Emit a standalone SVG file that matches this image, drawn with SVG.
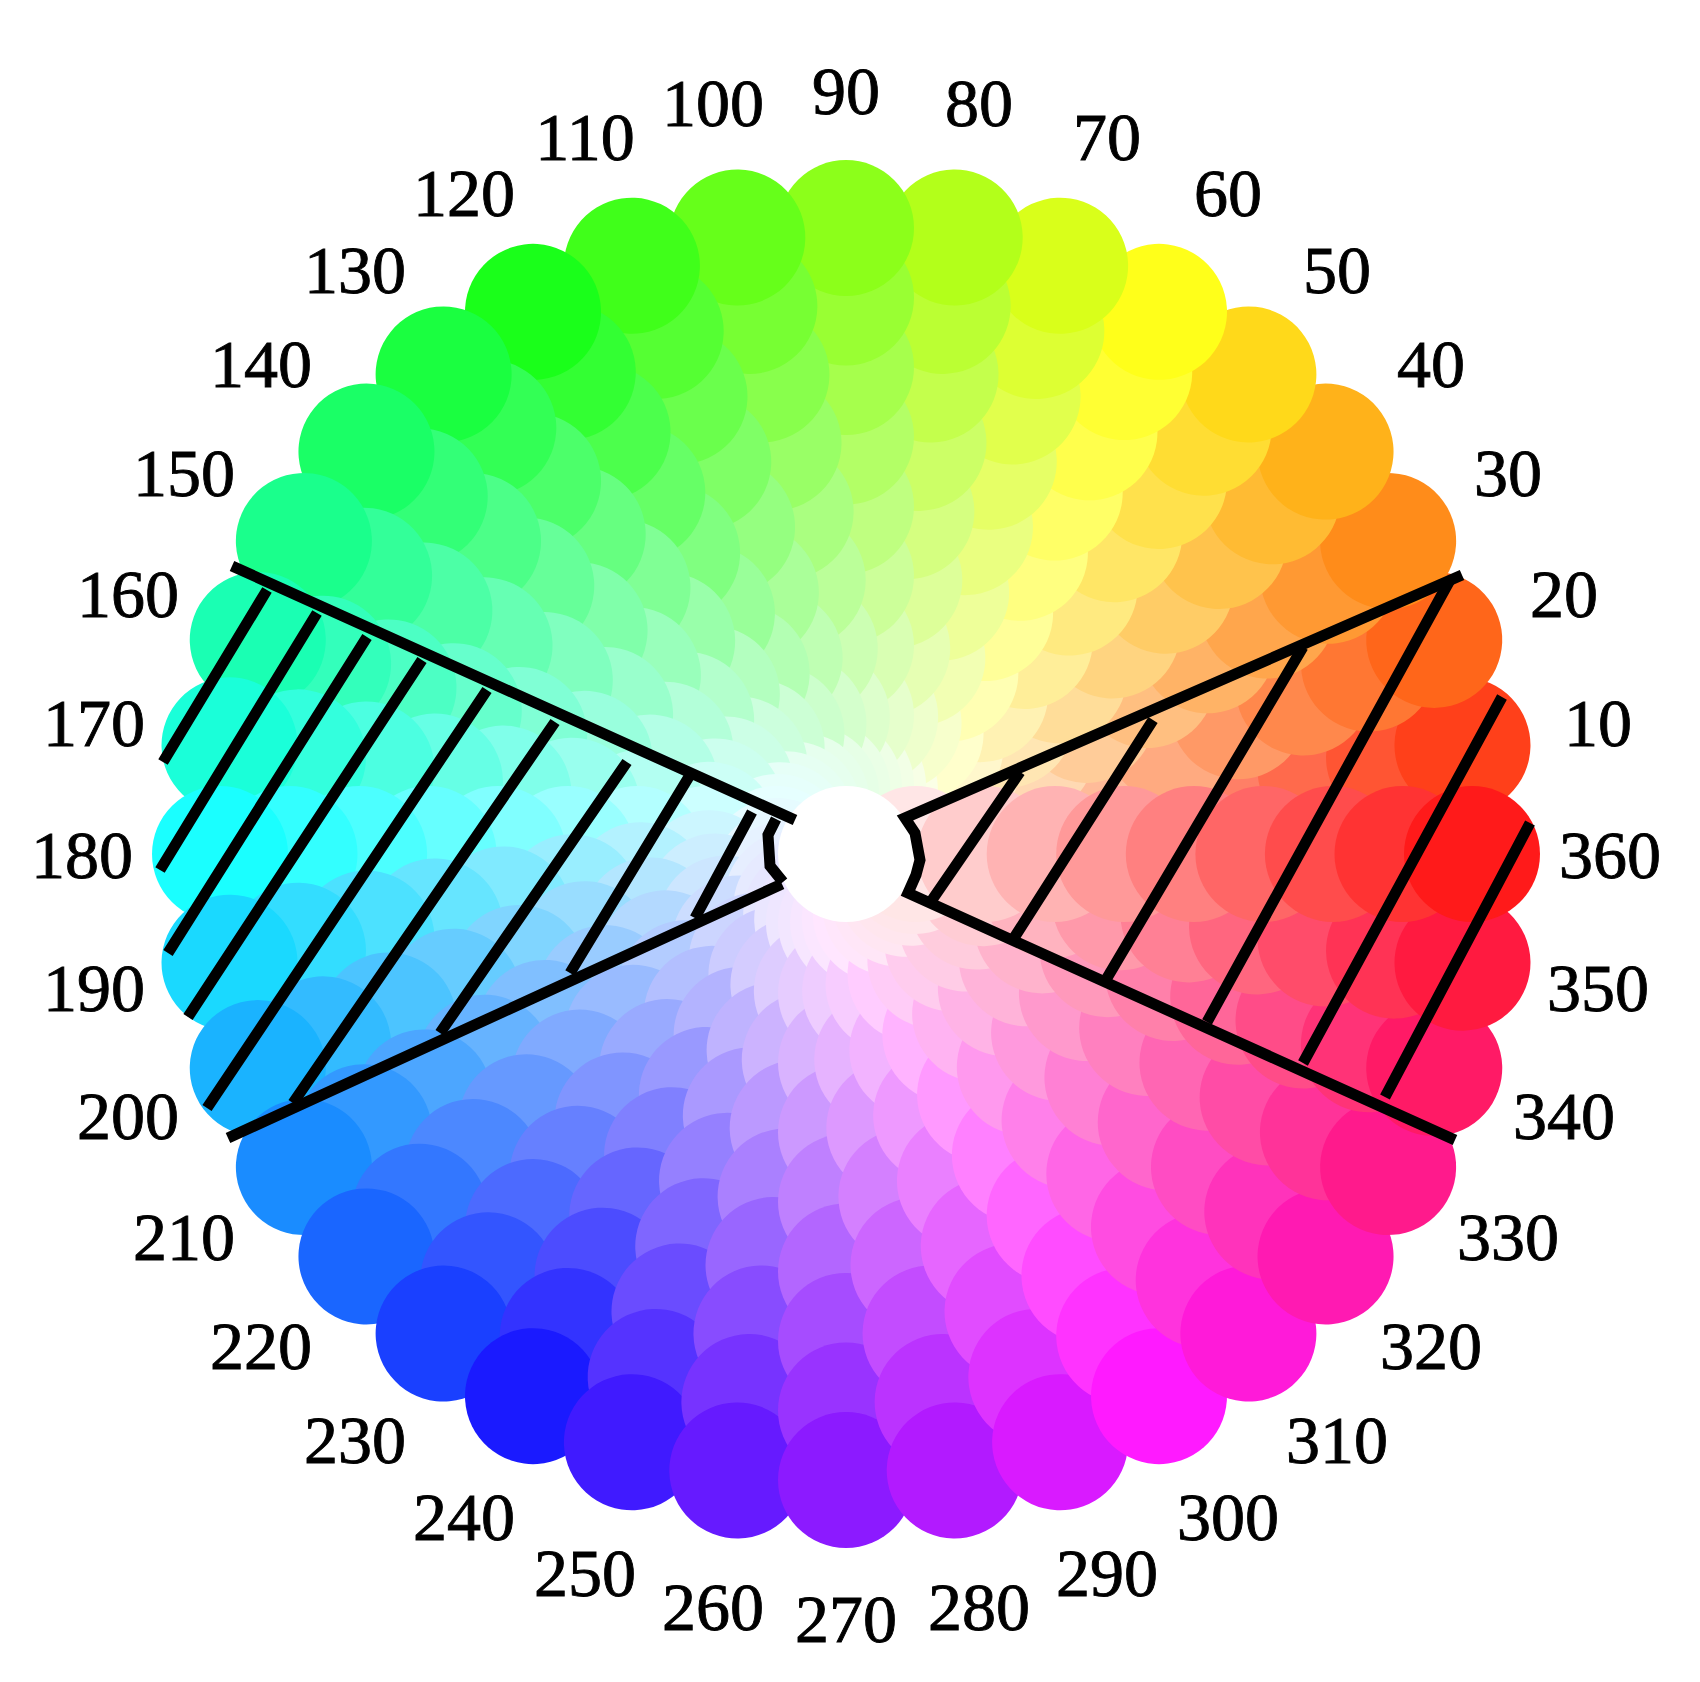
<svg xmlns="http://www.w3.org/2000/svg" xmlns:xlink="http://www.w3.org/1999/xlink" width="1700" height="1682" viewBox="0 0 1700 1682">
<style>
.lbl{font-family:"Liberation Serif","Times New Roman",serif;font-size:68px;fill:#000;stroke:#000;stroke-width:0.9px;text-anchor:middle}
.hatch{fill:none;stroke:#000;stroke-width:11;stroke-linejoin:miter;stroke-linecap:butt}
</style>
<defs>
<circle id="c" cx="846" cy="854" r="68"/>
</defs>
<rect width="1700" height="1682" fill="#fff"/>
<g id="wheel">
<g id="hue-10" transform="rotate(-10 846 854)"><use href="#c" x="69.6" fill="hsl(10,100%,95%)"/><use href="#c" x="139.1" fill="hsl(10,100%,90%)"/><use href="#c" x="208.7" fill="hsl(10,100%,85%)"/><use href="#c" x="278.2" fill="hsl(10,100%,80%)"/><use href="#c" x="347.8" fill="hsl(10,100%,75%)"/><use href="#c" x="417.4" fill="hsl(10,100%,70%)"/><use href="#c" x="486.9" fill="hsl(10,100%,65%)"/><use href="#c" x="556.5" fill="hsl(10,100%,60%)"/><use href="#c" x="626" fill="hsl(10,100%,55%)"/></g>
<g id="hue-20" transform="rotate(-20 846 854)"><use href="#c" x="69.6" fill="hsl(20,100%,95%)"/><use href="#c" x="139.1" fill="hsl(20,100%,90%)"/><use href="#c" x="208.7" fill="hsl(20,100%,85%)"/><use href="#c" x="278.2" fill="hsl(20,100%,80%)"/><use href="#c" x="347.8" fill="hsl(20,100%,75%)"/><use href="#c" x="417.4" fill="hsl(20,100%,70%)"/><use href="#c" x="486.9" fill="hsl(20,100%,65%)"/><use href="#c" x="556.5" fill="hsl(20,100%,60%)"/><use href="#c" x="626" fill="hsl(20,100%,55%)"/></g>
<g id="hue-30" transform="rotate(-30 846 854)"><use href="#c" x="69.6" fill="hsl(30,100%,95%)"/><use href="#c" x="139.1" fill="hsl(30,100%,90%)"/><use href="#c" x="208.7" fill="hsl(30,100%,85%)"/><use href="#c" x="278.2" fill="hsl(30,100%,80%)"/><use href="#c" x="347.8" fill="hsl(30,100%,75%)"/><use href="#c" x="417.4" fill="hsl(30,100%,70%)"/><use href="#c" x="486.9" fill="hsl(30,100%,65%)"/><use href="#c" x="556.5" fill="hsl(30,100%,60%)"/><use href="#c" x="626" fill="hsl(30,100%,55%)"/></g>
<g id="hue-40" transform="rotate(-40 846 854)"><use href="#c" x="69.6" fill="hsl(40,100%,95%)"/><use href="#c" x="139.1" fill="hsl(40,100%,90%)"/><use href="#c" x="208.7" fill="hsl(40,100%,85%)"/><use href="#c" x="278.2" fill="hsl(40,100%,80%)"/><use href="#c" x="347.8" fill="hsl(40,100%,75%)"/><use href="#c" x="417.4" fill="hsl(40,100%,70%)"/><use href="#c" x="486.9" fill="hsl(40,100%,65%)"/><use href="#c" x="556.5" fill="hsl(40,100%,60%)"/><use href="#c" x="626" fill="hsl(40,100%,55%)"/></g>
<g id="hue-50" transform="rotate(-50 846 854)"><use href="#c" x="69.6" fill="hsl(50,100%,95%)"/><use href="#c" x="139.1" fill="hsl(50,100%,90%)"/><use href="#c" x="208.7" fill="hsl(50,100%,85%)"/><use href="#c" x="278.2" fill="hsl(50,100%,80%)"/><use href="#c" x="347.8" fill="hsl(50,100%,75%)"/><use href="#c" x="417.4" fill="hsl(50,100%,70%)"/><use href="#c" x="486.9" fill="hsl(50,100%,65%)"/><use href="#c" x="556.5" fill="hsl(50,100%,60%)"/><use href="#c" x="626" fill="hsl(50,100%,55%)"/></g>
<g id="hue-60" transform="rotate(-60 846 854)"><use href="#c" x="69.6" fill="hsl(60,100%,95%)"/><use href="#c" x="139.1" fill="hsl(60,100%,90%)"/><use href="#c" x="208.7" fill="hsl(60,100%,85%)"/><use href="#c" x="278.2" fill="hsl(60,100%,80%)"/><use href="#c" x="347.8" fill="hsl(60,100%,75%)"/><use href="#c" x="417.4" fill="hsl(60,100%,70%)"/><use href="#c" x="486.9" fill="hsl(60,100%,65%)"/><use href="#c" x="556.5" fill="hsl(60,100%,60%)"/><use href="#c" x="626" fill="hsl(60,100%,55%)"/></g>
<g id="hue-70" transform="rotate(-70 846 854)"><use href="#c" x="69.6" fill="hsl(70,100%,95%)"/><use href="#c" x="139.1" fill="hsl(70,100%,90%)"/><use href="#c" x="208.7" fill="hsl(70,100%,85%)"/><use href="#c" x="278.2" fill="hsl(70,100%,80%)"/><use href="#c" x="347.8" fill="hsl(70,100%,75%)"/><use href="#c" x="417.4" fill="hsl(70,100%,70%)"/><use href="#c" x="486.9" fill="hsl(70,100%,65%)"/><use href="#c" x="556.5" fill="hsl(70,100%,60%)"/><use href="#c" x="626" fill="hsl(70,100%,55%)"/></g>
<g id="hue-80" transform="rotate(-80 846 854)"><use href="#c" x="69.6" fill="hsl(80,100%,95%)"/><use href="#c" x="139.1" fill="hsl(80,100%,90%)"/><use href="#c" x="208.7" fill="hsl(80,100%,85%)"/><use href="#c" x="278.2" fill="hsl(80,100%,80%)"/><use href="#c" x="347.8" fill="hsl(80,100%,75%)"/><use href="#c" x="417.4" fill="hsl(80,100%,70%)"/><use href="#c" x="486.9" fill="hsl(80,100%,65%)"/><use href="#c" x="556.5" fill="hsl(80,100%,60%)"/><use href="#c" x="626" fill="hsl(80,100%,55%)"/></g>
<g id="hue-90" transform="rotate(-90 846 854)"><use href="#c" x="69.6" fill="hsl(90,100%,95%)"/><use href="#c" x="139.1" fill="hsl(90,100%,90%)"/><use href="#c" x="208.7" fill="hsl(90,100%,85%)"/><use href="#c" x="278.2" fill="hsl(90,100%,80%)"/><use href="#c" x="347.8" fill="hsl(90,100%,75%)"/><use href="#c" x="417.4" fill="hsl(90,100%,70%)"/><use href="#c" x="486.9" fill="hsl(90,100%,65%)"/><use href="#c" x="556.5" fill="hsl(90,100%,60%)"/><use href="#c" x="626" fill="hsl(90,100%,55%)"/></g>
<g id="hue-100" transform="rotate(-100 846 854)"><use href="#c" x="69.6" fill="hsl(100,100%,95%)"/><use href="#c" x="139.1" fill="hsl(100,100%,90%)"/><use href="#c" x="208.7" fill="hsl(100,100%,85%)"/><use href="#c" x="278.2" fill="hsl(100,100%,80%)"/><use href="#c" x="347.8" fill="hsl(100,100%,75%)"/><use href="#c" x="417.4" fill="hsl(100,100%,70%)"/><use href="#c" x="486.9" fill="hsl(100,100%,65%)"/><use href="#c" x="556.5" fill="hsl(100,100%,60%)"/><use href="#c" x="626" fill="hsl(100,100%,55%)"/></g>
<g id="hue-110" transform="rotate(-110 846 854)"><use href="#c" x="69.6" fill="hsl(110,100%,95%)"/><use href="#c" x="139.1" fill="hsl(110,100%,90%)"/><use href="#c" x="208.7" fill="hsl(110,100%,85%)"/><use href="#c" x="278.2" fill="hsl(110,100%,80%)"/><use href="#c" x="347.8" fill="hsl(110,100%,75%)"/><use href="#c" x="417.4" fill="hsl(110,100%,70%)"/><use href="#c" x="486.9" fill="hsl(110,100%,65%)"/><use href="#c" x="556.5" fill="hsl(110,100%,60%)"/><use href="#c" x="626" fill="hsl(110,100%,55%)"/></g>
<g id="hue-120" transform="rotate(-120 846 854)"><use href="#c" x="69.6" fill="hsl(120,100%,95%)"/><use href="#c" x="139.1" fill="hsl(120,100%,90%)"/><use href="#c" x="208.7" fill="hsl(120,100%,85%)"/><use href="#c" x="278.2" fill="hsl(120,100%,80%)"/><use href="#c" x="347.8" fill="hsl(120,100%,75%)"/><use href="#c" x="417.4" fill="hsl(120,100%,70%)"/><use href="#c" x="486.9" fill="hsl(120,100%,65%)"/><use href="#c" x="556.5" fill="hsl(120,100%,60%)"/><use href="#c" x="626" fill="hsl(120,100%,55%)"/></g>
<g id="hue-130" transform="rotate(-130 846 854)"><use href="#c" x="69.6" fill="hsl(130,100%,95%)"/><use href="#c" x="139.1" fill="hsl(130,100%,90%)"/><use href="#c" x="208.7" fill="hsl(130,100%,85%)"/><use href="#c" x="278.2" fill="hsl(130,100%,80%)"/><use href="#c" x="347.8" fill="hsl(130,100%,75%)"/><use href="#c" x="417.4" fill="hsl(130,100%,70%)"/><use href="#c" x="486.9" fill="hsl(130,100%,65%)"/><use href="#c" x="556.5" fill="hsl(130,100%,60%)"/><use href="#c" x="626" fill="hsl(130,100%,55%)"/></g>
<g id="hue-140" transform="rotate(-140 846 854)"><use href="#c" x="69.6" fill="hsl(140,100%,95%)"/><use href="#c" x="139.1" fill="hsl(140,100%,90%)"/><use href="#c" x="208.7" fill="hsl(140,100%,85%)"/><use href="#c" x="278.2" fill="hsl(140,100%,80%)"/><use href="#c" x="347.8" fill="hsl(140,100%,75%)"/><use href="#c" x="417.4" fill="hsl(140,100%,70%)"/><use href="#c" x="486.9" fill="hsl(140,100%,65%)"/><use href="#c" x="556.5" fill="hsl(140,100%,60%)"/><use href="#c" x="626" fill="hsl(140,100%,55%)"/></g>
<g id="hue-150" transform="rotate(-150 846 854)"><use href="#c" x="69.6" fill="hsl(150,100%,95%)"/><use href="#c" x="139.1" fill="hsl(150,100%,90%)"/><use href="#c" x="208.7" fill="hsl(150,100%,85%)"/><use href="#c" x="278.2" fill="hsl(150,100%,80%)"/><use href="#c" x="347.8" fill="hsl(150,100%,75%)"/><use href="#c" x="417.4" fill="hsl(150,100%,70%)"/><use href="#c" x="486.9" fill="hsl(150,100%,65%)"/><use href="#c" x="556.5" fill="hsl(150,100%,60%)"/><use href="#c" x="626" fill="hsl(150,100%,55%)"/></g>
<g id="hue-160" transform="rotate(-160 846 854)"><use href="#c" x="69.6" fill="hsl(160,100%,95%)"/><use href="#c" x="139.1" fill="hsl(160,100%,90%)"/><use href="#c" x="208.7" fill="hsl(160,100%,85%)"/><use href="#c" x="278.2" fill="hsl(160,100%,80%)"/><use href="#c" x="347.8" fill="hsl(160,100%,75%)"/><use href="#c" x="417.4" fill="hsl(160,100%,70%)"/><use href="#c" x="486.9" fill="hsl(160,100%,65%)"/><use href="#c" x="556.5" fill="hsl(160,100%,60%)"/><use href="#c" x="626" fill="hsl(160,100%,55%)"/></g>
<g id="hue-170" transform="rotate(-170 846 854)"><use href="#c" x="69.6" fill="hsl(170,100%,95%)"/><use href="#c" x="139.1" fill="hsl(170,100%,90%)"/><use href="#c" x="208.7" fill="hsl(170,100%,85%)"/><use href="#c" x="278.2" fill="hsl(170,100%,80%)"/><use href="#c" x="347.8" fill="hsl(170,100%,75%)"/><use href="#c" x="417.4" fill="hsl(170,100%,70%)"/><use href="#c" x="486.9" fill="hsl(170,100%,65%)"/><use href="#c" x="556.5" fill="hsl(170,100%,60%)"/><use href="#c" x="626" fill="hsl(170,100%,55%)"/></g>
<g id="hue-180" transform="rotate(-180 846 854)"><use href="#c" x="69.6" fill="hsl(180,100%,95%)"/><use href="#c" x="139.1" fill="hsl(180,100%,90%)"/><use href="#c" x="208.7" fill="hsl(180,100%,85%)"/><use href="#c" x="278.2" fill="hsl(180,100%,80%)"/><use href="#c" x="347.8" fill="hsl(180,100%,75%)"/><use href="#c" x="417.4" fill="hsl(180,100%,70%)"/><use href="#c" x="486.9" fill="hsl(180,100%,65%)"/><use href="#c" x="556.5" fill="hsl(180,100%,60%)"/><use href="#c" x="626" fill="hsl(180,100%,55%)"/></g>
<g id="hue-190" transform="rotate(-190 846 854)"><use href="#c" x="69.6" fill="hsl(190,100%,95%)"/><use href="#c" x="139.1" fill="hsl(190,100%,90%)"/><use href="#c" x="208.7" fill="hsl(190,100%,85%)"/><use href="#c" x="278.2" fill="hsl(190,100%,80%)"/><use href="#c" x="347.8" fill="hsl(190,100%,75%)"/><use href="#c" x="417.4" fill="hsl(190,100%,70%)"/><use href="#c" x="486.9" fill="hsl(190,100%,65%)"/><use href="#c" x="556.5" fill="hsl(190,100%,60%)"/><use href="#c" x="626" fill="hsl(190,100%,55%)"/></g>
<g id="hue-200" transform="rotate(-200 846 854)"><use href="#c" x="69.6" fill="hsl(200,100%,95%)"/><use href="#c" x="139.1" fill="hsl(200,100%,90%)"/><use href="#c" x="208.7" fill="hsl(200,100%,85%)"/><use href="#c" x="278.2" fill="hsl(200,100%,80%)"/><use href="#c" x="347.8" fill="hsl(200,100%,75%)"/><use href="#c" x="417.4" fill="hsl(200,100%,70%)"/><use href="#c" x="486.9" fill="hsl(200,100%,65%)"/><use href="#c" x="556.5" fill="hsl(200,100%,60%)"/><use href="#c" x="626" fill="hsl(200,100%,55%)"/></g>
<g id="hue-210" transform="rotate(-210 846 854)"><use href="#c" x="69.6" fill="hsl(210,100%,95%)"/><use href="#c" x="139.1" fill="hsl(210,100%,90%)"/><use href="#c" x="208.7" fill="hsl(210,100%,85%)"/><use href="#c" x="278.2" fill="hsl(210,100%,80%)"/><use href="#c" x="347.8" fill="hsl(210,100%,75%)"/><use href="#c" x="417.4" fill="hsl(210,100%,70%)"/><use href="#c" x="486.9" fill="hsl(210,100%,65%)"/><use href="#c" x="556.5" fill="hsl(210,100%,60%)"/><use href="#c" x="626" fill="hsl(210,100%,55%)"/></g>
<g id="hue-220" transform="rotate(-220 846 854)"><use href="#c" x="69.6" fill="hsl(220,100%,95%)"/><use href="#c" x="139.1" fill="hsl(220,100%,90%)"/><use href="#c" x="208.7" fill="hsl(220,100%,85%)"/><use href="#c" x="278.2" fill="hsl(220,100%,80%)"/><use href="#c" x="347.8" fill="hsl(220,100%,75%)"/><use href="#c" x="417.4" fill="hsl(220,100%,70%)"/><use href="#c" x="486.9" fill="hsl(220,100%,65%)"/><use href="#c" x="556.5" fill="hsl(220,100%,60%)"/><use href="#c" x="626" fill="hsl(220,100%,55%)"/></g>
<g id="hue-230" transform="rotate(-230 846 854)"><use href="#c" x="69.6" fill="hsl(230,100%,95%)"/><use href="#c" x="139.1" fill="hsl(230,100%,90%)"/><use href="#c" x="208.7" fill="hsl(230,100%,85%)"/><use href="#c" x="278.2" fill="hsl(230,100%,80%)"/><use href="#c" x="347.8" fill="hsl(230,100%,75%)"/><use href="#c" x="417.4" fill="hsl(230,100%,70%)"/><use href="#c" x="486.9" fill="hsl(230,100%,65%)"/><use href="#c" x="556.5" fill="hsl(230,100%,60%)"/><use href="#c" x="626" fill="hsl(230,100%,55%)"/></g>
<g id="hue-240" transform="rotate(-240 846 854)"><use href="#c" x="69.6" fill="hsl(240,100%,95%)"/><use href="#c" x="139.1" fill="hsl(240,100%,90%)"/><use href="#c" x="208.7" fill="hsl(240,100%,85%)"/><use href="#c" x="278.2" fill="hsl(240,100%,80%)"/><use href="#c" x="347.8" fill="hsl(240,100%,75%)"/><use href="#c" x="417.4" fill="hsl(240,100%,70%)"/><use href="#c" x="486.9" fill="hsl(240,100%,65%)"/><use href="#c" x="556.5" fill="hsl(240,100%,60%)"/><use href="#c" x="626" fill="hsl(240,100%,55%)"/></g>
<g id="hue-250" transform="rotate(-250 846 854)"><use href="#c" x="69.6" fill="hsl(250,100%,95%)"/><use href="#c" x="139.1" fill="hsl(250,100%,90%)"/><use href="#c" x="208.7" fill="hsl(250,100%,85%)"/><use href="#c" x="278.2" fill="hsl(250,100%,80%)"/><use href="#c" x="347.8" fill="hsl(250,100%,75%)"/><use href="#c" x="417.4" fill="hsl(250,100%,70%)"/><use href="#c" x="486.9" fill="hsl(250,100%,65%)"/><use href="#c" x="556.5" fill="hsl(250,100%,60%)"/><use href="#c" x="626" fill="hsl(250,100%,55%)"/></g>
<g id="hue-260" transform="rotate(-260 846 854)"><use href="#c" x="69.6" fill="hsl(260,100%,95%)"/><use href="#c" x="139.1" fill="hsl(260,100%,90%)"/><use href="#c" x="208.7" fill="hsl(260,100%,85%)"/><use href="#c" x="278.2" fill="hsl(260,100%,80%)"/><use href="#c" x="347.8" fill="hsl(260,100%,75%)"/><use href="#c" x="417.4" fill="hsl(260,100%,70%)"/><use href="#c" x="486.9" fill="hsl(260,100%,65%)"/><use href="#c" x="556.5" fill="hsl(260,100%,60%)"/><use href="#c" x="626" fill="hsl(260,100%,55%)"/></g>
<g id="hue-270" transform="rotate(-270 846 854)"><use href="#c" x="69.6" fill="hsl(270,100%,95%)"/><use href="#c" x="139.1" fill="hsl(270,100%,90%)"/><use href="#c" x="208.7" fill="hsl(270,100%,85%)"/><use href="#c" x="278.2" fill="hsl(270,100%,80%)"/><use href="#c" x="347.8" fill="hsl(270,100%,75%)"/><use href="#c" x="417.4" fill="hsl(270,100%,70%)"/><use href="#c" x="486.9" fill="hsl(270,100%,65%)"/><use href="#c" x="556.5" fill="hsl(270,100%,60%)"/><use href="#c" x="626" fill="hsl(270,100%,55%)"/></g>
<g id="hue-280" transform="rotate(-280 846 854)"><use href="#c" x="69.6" fill="hsl(280,100%,95%)"/><use href="#c" x="139.1" fill="hsl(280,100%,90%)"/><use href="#c" x="208.7" fill="hsl(280,100%,85%)"/><use href="#c" x="278.2" fill="hsl(280,100%,80%)"/><use href="#c" x="347.8" fill="hsl(280,100%,75%)"/><use href="#c" x="417.4" fill="hsl(280,100%,70%)"/><use href="#c" x="486.9" fill="hsl(280,100%,65%)"/><use href="#c" x="556.5" fill="hsl(280,100%,60%)"/><use href="#c" x="626" fill="hsl(280,100%,55%)"/></g>
<g id="hue-290" transform="rotate(-290 846 854)"><use href="#c" x="69.6" fill="hsl(290,100%,95%)"/><use href="#c" x="139.1" fill="hsl(290,100%,90%)"/><use href="#c" x="208.7" fill="hsl(290,100%,85%)"/><use href="#c" x="278.2" fill="hsl(290,100%,80%)"/><use href="#c" x="347.8" fill="hsl(290,100%,75%)"/><use href="#c" x="417.4" fill="hsl(290,100%,70%)"/><use href="#c" x="486.9" fill="hsl(290,100%,65%)"/><use href="#c" x="556.5" fill="hsl(290,100%,60%)"/><use href="#c" x="626" fill="hsl(290,100%,55%)"/></g>
<g id="hue-300" transform="rotate(-300 846 854)"><use href="#c" x="69.6" fill="hsl(300,100%,95%)"/><use href="#c" x="139.1" fill="hsl(300,100%,90%)"/><use href="#c" x="208.7" fill="hsl(300,100%,85%)"/><use href="#c" x="278.2" fill="hsl(300,100%,80%)"/><use href="#c" x="347.8" fill="hsl(300,100%,75%)"/><use href="#c" x="417.4" fill="hsl(300,100%,70%)"/><use href="#c" x="486.9" fill="hsl(300,100%,65%)"/><use href="#c" x="556.5" fill="hsl(300,100%,60%)"/><use href="#c" x="626" fill="hsl(300,100%,55%)"/></g>
<g id="hue-310" transform="rotate(-310 846 854)"><use href="#c" x="69.6" fill="hsl(310,100%,95%)"/><use href="#c" x="139.1" fill="hsl(310,100%,90%)"/><use href="#c" x="208.7" fill="hsl(310,100%,85%)"/><use href="#c" x="278.2" fill="hsl(310,100%,80%)"/><use href="#c" x="347.8" fill="hsl(310,100%,75%)"/><use href="#c" x="417.4" fill="hsl(310,100%,70%)"/><use href="#c" x="486.9" fill="hsl(310,100%,65%)"/><use href="#c" x="556.5" fill="hsl(310,100%,60%)"/><use href="#c" x="626" fill="hsl(310,100%,55%)"/></g>
<g id="hue-320" transform="rotate(-320 846 854)"><use href="#c" x="69.6" fill="hsl(320,100%,95%)"/><use href="#c" x="139.1" fill="hsl(320,100%,90%)"/><use href="#c" x="208.7" fill="hsl(320,100%,85%)"/><use href="#c" x="278.2" fill="hsl(320,100%,80%)"/><use href="#c" x="347.8" fill="hsl(320,100%,75%)"/><use href="#c" x="417.4" fill="hsl(320,100%,70%)"/><use href="#c" x="486.9" fill="hsl(320,100%,65%)"/><use href="#c" x="556.5" fill="hsl(320,100%,60%)"/><use href="#c" x="626" fill="hsl(320,100%,55%)"/></g>
<g id="hue-330" transform="rotate(-330 846 854)"><use href="#c" x="69.6" fill="hsl(330,100%,95%)"/><use href="#c" x="139.1" fill="hsl(330,100%,90%)"/><use href="#c" x="208.7" fill="hsl(330,100%,85%)"/><use href="#c" x="278.2" fill="hsl(330,100%,80%)"/><use href="#c" x="347.8" fill="hsl(330,100%,75%)"/><use href="#c" x="417.4" fill="hsl(330,100%,70%)"/><use href="#c" x="486.9" fill="hsl(330,100%,65%)"/><use href="#c" x="556.5" fill="hsl(330,100%,60%)"/><use href="#c" x="626" fill="hsl(330,100%,55%)"/></g>
<g id="hue-340" transform="rotate(-340 846 854)"><use href="#c" x="69.6" fill="hsl(340,100%,95%)"/><use href="#c" x="139.1" fill="hsl(340,100%,90%)"/><use href="#c" x="208.7" fill="hsl(340,100%,85%)"/><use href="#c" x="278.2" fill="hsl(340,100%,80%)"/><use href="#c" x="347.8" fill="hsl(340,100%,75%)"/><use href="#c" x="417.4" fill="hsl(340,100%,70%)"/><use href="#c" x="486.9" fill="hsl(340,100%,65%)"/><use href="#c" x="556.5" fill="hsl(340,100%,60%)"/><use href="#c" x="626" fill="hsl(340,100%,55%)"/></g>
<g id="hue-350" transform="rotate(-350 846 854)"><use href="#c" x="69.6" fill="hsl(350,100%,95%)"/><use href="#c" x="139.1" fill="hsl(350,100%,90%)"/><use href="#c" x="208.7" fill="hsl(350,100%,85%)"/><use href="#c" x="278.2" fill="hsl(350,100%,80%)"/><use href="#c" x="347.8" fill="hsl(350,100%,75%)"/><use href="#c" x="417.4" fill="hsl(350,100%,70%)"/><use href="#c" x="486.9" fill="hsl(350,100%,65%)"/><use href="#c" x="556.5" fill="hsl(350,100%,60%)"/><use href="#c" x="626" fill="hsl(350,100%,55%)"/></g>
<g id="hue-360"><use href="#c" x="69.6" fill="hsl(0,100%,95%)"/><use href="#c" x="139.1" fill="hsl(0,100%,90%)"/><use href="#c" x="208.7" fill="hsl(0,100%,85%)"/><use href="#c" x="278.2" fill="hsl(0,100%,80%)"/><use href="#c" x="347.8" fill="hsl(0,100%,75%)"/><use href="#c" x="417.4" fill="hsl(0,100%,70%)"/><use href="#c" x="486.9" fill="hsl(0,100%,65%)"/><use href="#c" x="556.5" fill="hsl(0,100%,60%)"/><use href="#c" x="626" fill="hsl(0,100%,55%)"/></g>
<use id="center" href="#c" fill="#fff"/>
</g>
<g id="hatching" class="hatch">
<path id="wedge-left" d="M232,566 L795,820 M776,819 L768,835 L770,866 L783,882 M782,884 L228,1138"/>
<path id="wedge-right" d="M1462,575 L905,818 L915,833 L920,860 L916,875 L908,893 L1455,1140"/>
<path d="M267,590 L163,762 M317,613 L160,870 M367,637 L168,953 M422,660 L188,1017 M487,690 L207,1108 M555,722 L293,1103 M627,762 L440,1033 M690,775 L570,973 M752,812 L695,918"/>
<path d="M1020,772 L932,900 M1153,720 L1014,938 M1303,647 L1107,978 M1450,580 L1207,1022 M1502,697 L1303,1063 M1530,823 L1385,1097"/>
</g>
<g id="labels" class="lbl">
<text x="1598" y="746">10</text>
<text x="1564" y="617">20</text>
<text x="1508" y="496">30</text>
<text x="1431" y="387">40</text>
<text x="1337" y="293">50</text>
<text x="1228" y="216">60</text>
<text x="1107" y="160">70</text>
<text x="979" y="126">80</text>
<text x="846" y="114">90</text>
<text x="713" y="126">100</text>
<text x="585" y="160">110</text>
<text x="464" y="216">120</text>
<text x="355" y="293">130</text>
<text x="261" y="387">140</text>
<text x="184" y="496">150</text>
<text x="128" y="617">160</text>
<text x="94" y="746">170</text>
<text x="82" y="878">180</text>
<text x="94" y="1011">190</text>
<text x="128" y="1139">200</text>
<text x="184" y="1260">210</text>
<text x="261" y="1369">220</text>
<text x="355" y="1463">230</text>
<text x="464" y="1540">240</text>
<text x="585" y="1596">250</text>
<text x="713" y="1630">260</text>
<text x="846" y="1642">270</text>
<text x="979" y="1630">280</text>
<text x="1107" y="1596">290</text>
<text x="1228" y="1540">300</text>
<text x="1337" y="1463">310</text>
<text x="1431" y="1369">320</text>
<text x="1508" y="1260">330</text>
<text x="1564" y="1139">340</text>
<text x="1598" y="1011">350</text>
<text x="1610" y="878">360</text>
</g>
</svg>
